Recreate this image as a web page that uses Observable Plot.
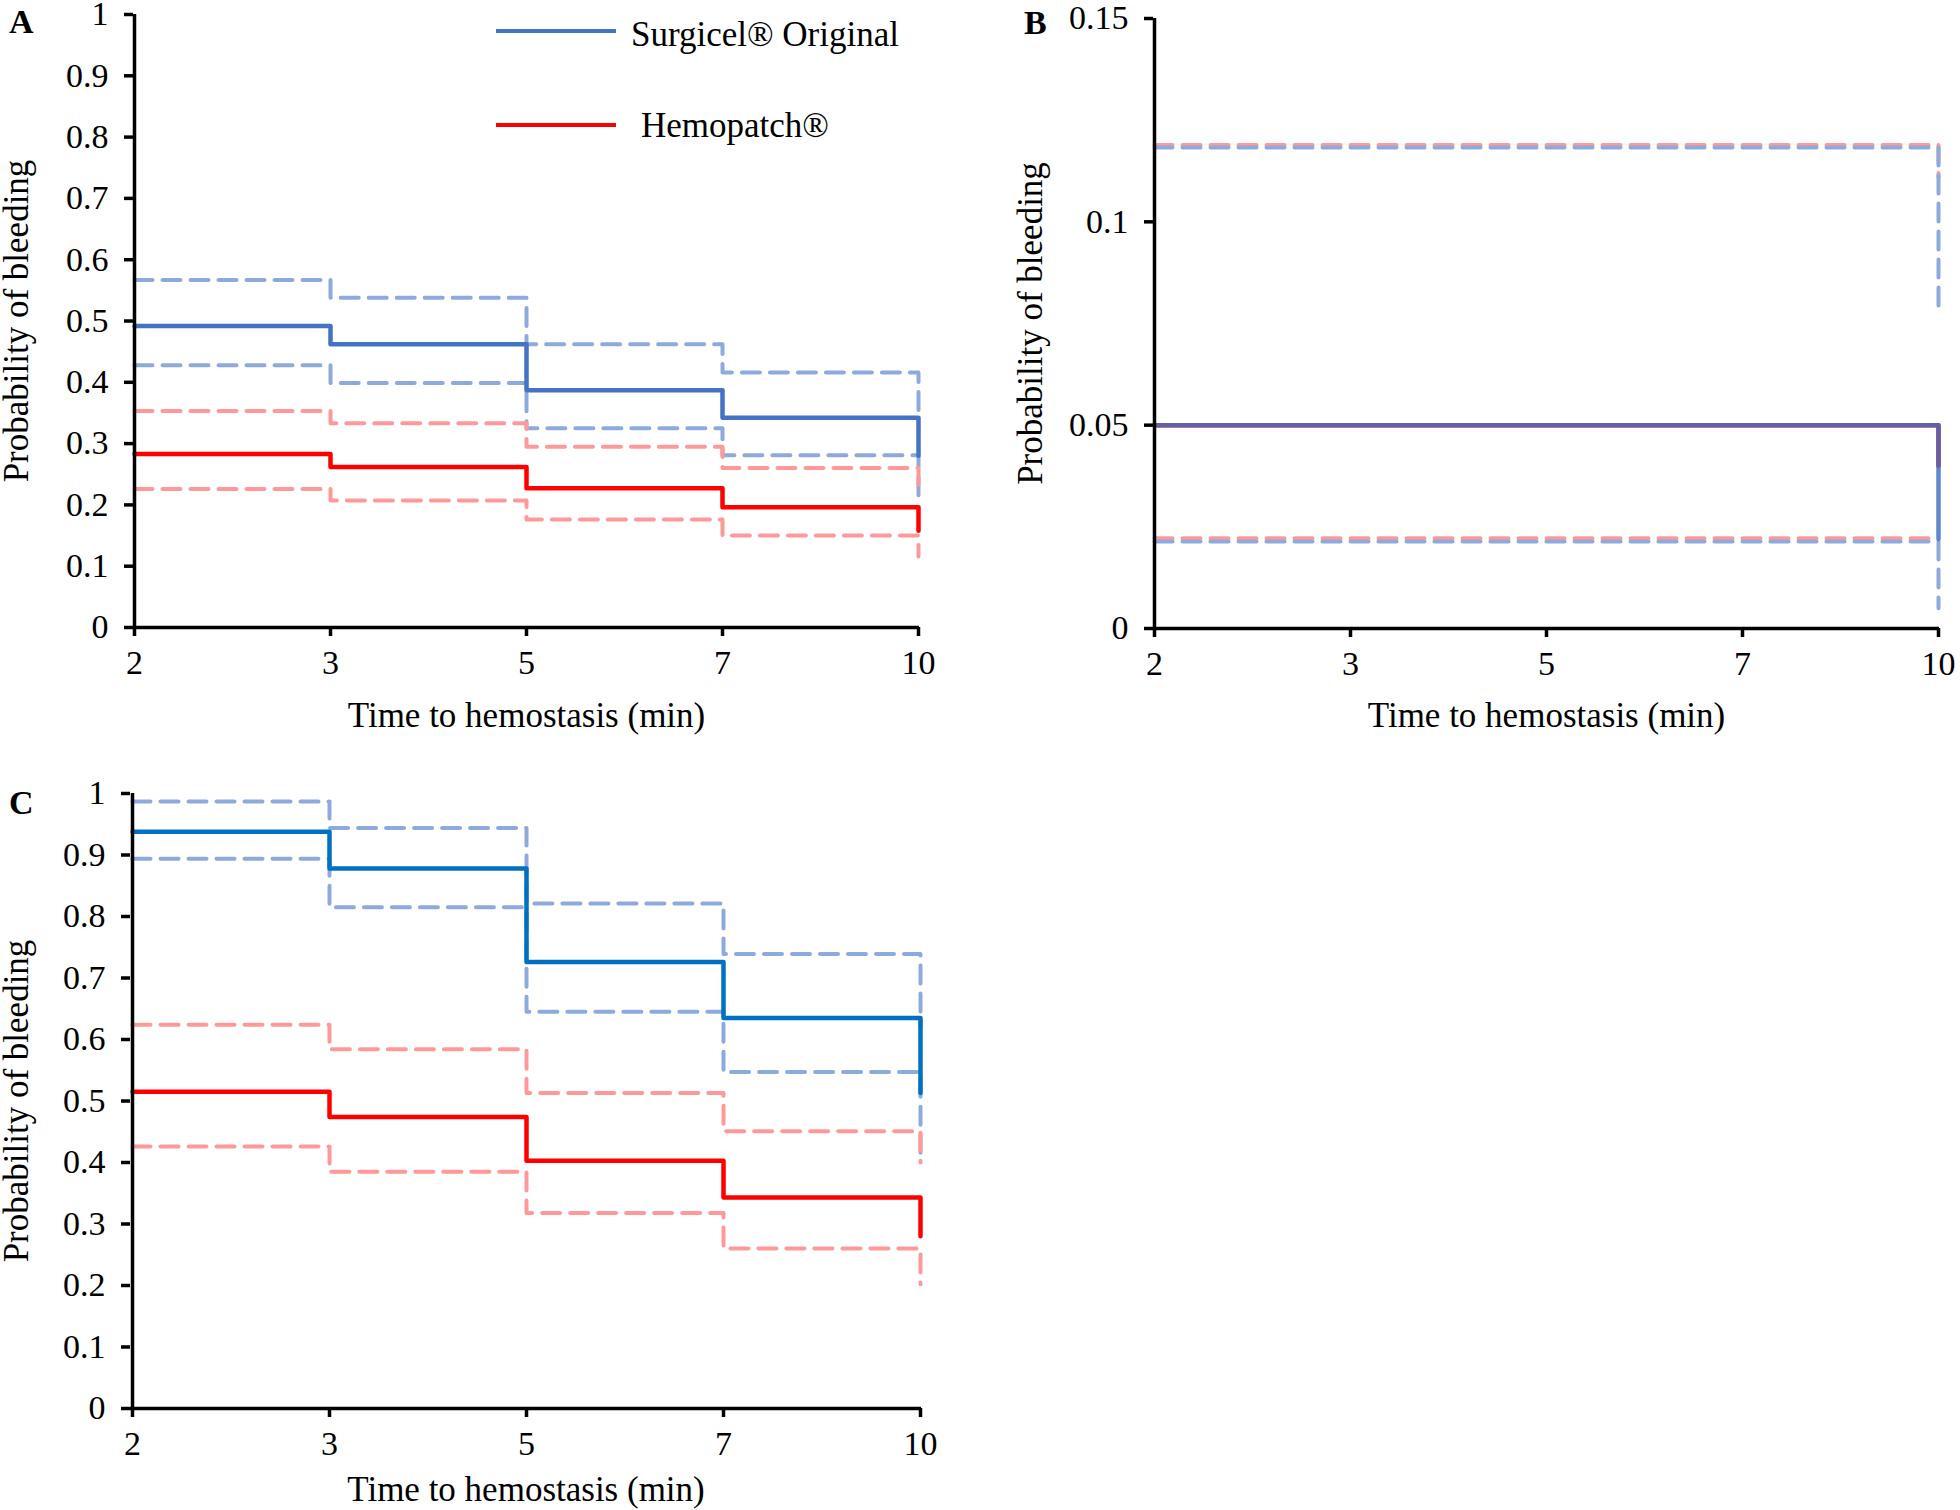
<!DOCTYPE html>
<html>
<head>
<meta charset="utf-8">
<script src="https://cdn.jsdelivr.net/npm/d3@7"></script>
<script src="https://cdn.jsdelivr.net/npm/@observablehq/plot@0.6"></script>
<style>
  html, body { margin: 0; padding: 0; background: #fff; }
  #wrap { position: relative; width: 1960px; height: 1510px; background: #fff; font-family: "Liberation Serif", "Times New Roman", serif; }
  .panel { position: absolute; }
  .letter { position: absolute; font-weight: bold; font-size: 34px; line-height: 1; color: #000; }
  .leg { position: absolute; font-size: 35px; line-height: 1; color: #000; white-space: nowrap; }
  .legline { position: absolute; height: 4px; }
  g[aria-label="x-axis label"] text, g[aria-label="y-axis label"] text { font-size: 35px; }
</style>
</head>
<body>
<div id="wrap"></div>
<script>
// ---- Data ----
const times = [2, 3, 5, 7, 10];
const tickLabelsA = [0, 0.1, 0.2, 0.3, 0.4, 0.5, 0.6, 0.7, 0.8, 0.9, 1];
const tickLabelsB = [0, 0.05, 0.1, 0.15];
const seriesNames = ["Surgicel® Original", "Hemopatch®"];

// Panel A
const aSurgicel      = [0.492, 0.462, 0.387, 0.342, 0.280];
const aSurgicelUpper = [0.567, 0.538, 0.462, 0.416, 0.350];
const aSurgicelLower = [0.428, 0.399, 0.325, 0.281, 0.208];
const aHemo          = [0.283, 0.262, 0.227, 0.196, 0.158];
const aHemoUpper     = [0.353, 0.333, 0.295, 0.260, 0.220];
const aHemoLower     = [0.226, 0.207, 0.176, 0.150, 0.116];

// Panel B
const bSurgicel      = [0.050, 0.050, 0.050, 0.050, 0.022];
const bSurgicelUpper = [0.1183, 0.1183, 0.1183, 0.1183, 0.079];
const bSurgicelLower = [0.0214, 0.0214, 0.0214, 0.0214, 0.005];
const bHemo          = [0.050, 0.050, 0.050, 0.050, 0.040];
const bHemoUpper     = [0.1189, 0.1189, 0.1189, 0.1189, 0.111];
const bHemoLower     = [0.0222, 0.0222, 0.0222, 0.0222, 0.0222];

// Panel C
const cSurgicel      = [0.938, 0.878, 0.726, 0.635, 0.513];
const cSurgicelUpper = [0.987, 0.944, 0.821, 0.739, 0.620];
const cSurgicelLower = [0.894, 0.815, 0.645, 0.547, 0.410];
const cHemo          = [0.515, 0.474, 0.403, 0.343, 0.280];
const cHemoUpper     = [0.624, 0.584, 0.513, 0.451, 0.400];
const cHemoLower     = [0.426, 0.385, 0.318, 0.260, 0.202];

// ---- Helpers ----
const rows = (vals) => times.map((t, i) => ({t, v: vals[i]}));
const fmt = d => String(+d.toFixed(2));

function panel(opts) {
  const {width, height, mt, mb, ml, mr, yDomain, yTicks, sets} = opts;
  const dash = "18,10";
  const marks = [];
  for (const s of sets) {
    marks.push(Plot.line(rows(s.upper), {x: "t", y: "v", curve: "step-after", stroke: s.ciColor, strokeWidth: 4, strokeDasharray: dash}));
    marks.push(Plot.line(rows(s.lower), {x: "t", y: "v", curve: "step-after", stroke: s.ciColor, strokeWidth: 4, strokeDasharray: dash}));
  }
  for (const s of sets) {
    marks.push(Plot.line(rows(s.est), {x: "t", y: "v", curve: "step-after", stroke: s.color, strokeWidth: 4.5, strokeOpacity: s.opacity ?? 1}));
  }
  marks.push(Plot.ruleY([0], {stroke: "#000", strokeWidth: 3.5}));
  marks.push(Plot.ruleX([times[0]], {stroke: "#000", strokeWidth: 3.5}));
  marks.push(Plot.axisY({ticks: yTicks, tickFormat: fmt, tickSize: 9, tickPadding: 16, strokeWidth: 3.5, fontSize: 34,
    label: "Probability of bleeding", labelAnchor: "center", labelArrow: "none", labelOffset: opts.yLabelOffset}));
  marks.push(Plot.axisX({tickSize: 9, tickPadding: 13, strokeWidth: 3.5, fontSize: 34,
    label: "Time to hemostasis (min)", labelAnchor: "center", labelArrow: "none", labelOffset: opts.xLabelOffset}));
  return Plot.plot({
    width, height,
    marginTop: mt, marginBottom: mb, marginLeft: ml, marginRight: mr,
    style: {fontFamily: "Liberation Serif, Times New Roman, serif", fontSize: "34px", color: "#000", background: "transparent", overflow: "visible"},
    x: {type: "point", domain: times, padding: 0},
    y: {domain: yDomain},
    marks
  });
}

const BLUE_CI = "#8EA9DB", RED_CI = "#FF9999";

const wrap = document.getElementById("wrap");
function place(el, left, top) {
  el.classList.add("panel");
  el.style.left = left + "px";
  el.style.top = top + "px";
  wrap.appendChild(el);
}

const pA = panel({width: 980, height: 730, mt: 14, mb: 103, ml: 133, mr: 61, yDomain: [0, 1], yTicks: tickLabelsA,
  yLabelOffset: 130, xLabelOffset: 99,
  sets: [
    {est: aSurgicel, upper: aSurgicelUpper, lower: aSurgicelLower, color: "#4472C4", ciColor: BLUE_CI},
    {est: aHemo, upper: aHemoUpper, lower: aHemoLower, color: "#FF0000", ciColor: RED_CI}
  ]});
place(pA, 0, 0);

const pB = panel({width: 980, height: 730, mt: 18, mb: 102, ml: 173, mr: 21, yDomain: [0, 0.15], yTicks: tickLabelsB,
  yLabelOffset: 136, xLabelOffset: 98,
  sets: [
    {est: bHemo, upper: bHemoUpper, lower: bHemoLower, color: "#FF0000", ciColor: RED_CI},
    {est: bSurgicel, upper: bSurgicelUpper, lower: bSurgicelLower, color: "#4472C4", ciColor: BLUE_CI, opacity: 0.85}
  ]});
place(pB, 980, 0);

const pC = panel({width: 980, height: 750, mt: 33, mb: 102, ml: 130, mr: 59, yDomain: [0, 1], yTicks: tickLabelsA,
  yLabelOffset: 127, xLabelOffset: 92,
  sets: [
    {est: cSurgicel, upper: cSurgicelUpper, lower: cSurgicelLower, color: "#0070C0", ciColor: BLUE_CI},
    {est: cHemo, upper: cHemoUpper, lower: cHemoLower, color: "#FF0000", ciColor: RED_CI}
  ]});
place(pC, 0, 760);

// Panel letters
for (const [txt, l, t] of [["A", 9, 5], ["B", 1024, 6], ["C", 9, 786]]) {
  const d = document.createElement("div");
  d.className = "letter"; d.textContent = txt;
  d.style.left = l + "px"; d.style.top = t + "px";
  wrap.appendChild(d);
}

// Legend (panel A)
const legendItems = [
  {name: seriesNames[0], color: "#4472C4", lineTop: 29, textLeft: 631, textTop: 17},
  {name: seriesNames[1], color: "#FF0000", lineTop: 123, textLeft: 641, textTop: 108}
];
for (const it of legendItems) {
  const ln = document.createElement("div");
  ln.className = "legline";
  ln.style.left = "496px"; ln.style.width = "120px"; ln.style.top = it.lineTop + "px"; ln.style.background = it.color;
  wrap.appendChild(ln);
  const tx = document.createElement("div");
  tx.className = "leg"; tx.textContent = it.name;
  tx.style.left = it.textLeft + "px"; tx.style.top = it.textTop + "px";
  wrap.appendChild(tx);
}
</script>
</body>
</html>
